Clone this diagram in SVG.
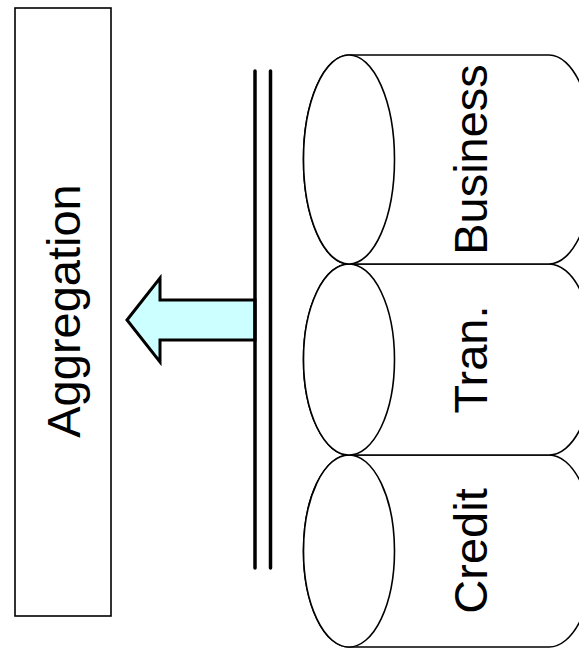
<svg xmlns="http://www.w3.org/2000/svg" width="579" height="649" viewBox="0 0 579 649">
<style>
.lbl{font-family:"Liberation Sans",Arial,sans-serif;font-size:47px;fill:#000;text-anchor:middle}
.cyl{fill:#fff;stroke:#000;stroke-width:1.6}
.bar{stroke:#000;stroke-width:3.5;stroke-linecap:round;fill:none}
</style>
<rect width="579" height="649" fill="#fff"/>
<g id="aggregation">
<rect x="15" y="8" width="96" height="608" fill="#fff" stroke="#000" stroke-width="1.6"/>
<text class="lbl" transform="translate(80,311) rotate(-90)">Aggregation</text>
</g>
<g id="connectors">
<polygon points="127,320 160,278 160,300 255,300 255,340 160,340 160,362" fill="#CCFFFF" stroke="#000" stroke-width="3" stroke-linejoin="miter"/>
<line class="bar" x1="255" y1="71" x2="255" y2="568"/>
<line class="bar" x1="270.5" y1="71" x2="270.5" y2="568"/>
</g>
<g id="credit">
<path class="cyl" d="M349,455 L549,455 A45.5,96 0 0 1 549,647 L349,647 A45.5,96 0 0 1 349,455 Z"/>
<ellipse class="cyl" cx="349" cy="551" rx="45.5" ry="96"/>
<text class="lbl" transform="translate(487,551) rotate(-90)">Credit</text>
</g>
<g id="tran">
<path class="cyl" d="M349,264 L549,264 A45.5,95.5 0 0 1 549,455 L349,455 A45.5,95.5 0 0 1 349,264 Z"/>
<ellipse class="cyl" cx="349" cy="359.5" rx="45.5" ry="95.5"/>
<text class="lbl" transform="translate(487,359.5) rotate(-90)">Tran.</text>
</g>
<g id="business">
<path class="cyl" d="M349,55 L549,55 A45.5,104.5 0 0 1 549,264 L349,264 A45.5,104.5 0 0 1 349,55 Z"/>
<ellipse class="cyl" cx="349" cy="159.5" rx="45.5" ry="104.5"/>
<text class="lbl" transform="translate(487,159.5) rotate(-90)">Business</text>
</g>
</svg>
